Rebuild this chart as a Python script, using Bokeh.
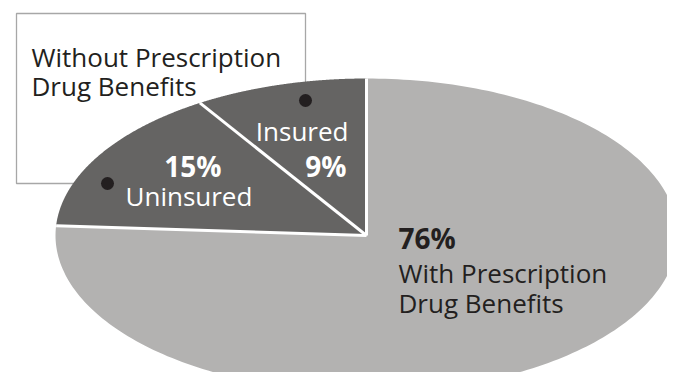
import numpy as np
from bokeh.plotting import figure
from bokeh.models import Range1d
from bokeh.core.properties import value
from bokeh.embed import file_html
from bokeh.resources import INLINE

# data
categories = ["With Prescription Drug Benefits", "Uninsured", "Insured"]
shares = [76, 15, 9]
colors = ["#b3b2b1", "#656463", "#656463"]

W, H = 667, 372
p = figure(width=W, height=H, output_backend="svg", toolbar_location=None,
           x_range=Range1d(0, W), y_range=Range1d(H, 0),
           min_border=0, outline_line_color=None)
p.axis.visible = False
p.grid.visible = False
p.background_fill_color = "white"

cx, cy, rx, ry = 366, 235, 311, 157

# callout box (behind pie)
p.line(x=[305, 305, 16, 16, 107], y=[100, 13, 13, 183, 183], line_color="#a7a7a7", line_width=1.3)

# pie wedges (clockwise from 12 o'clock)
start = 90.0
edges = []
for share, col in zip(shares, colors):
    end = start - share * 3.6
    th = np.radians(np.linspace(start, end, 240))
    xs = np.concatenate([[cx], cx + rx * np.cos(th)])
    ys = np.concatenate([[cy], cy - ry * np.sin(th)])
    p.patch(xs, ys, fill_color=col, line_color=None)
    edges.append(np.radians(start))
    start = end

for a in edges:
    p.line([cx, cx + rx * np.cos(a)], [cy, cy - ry * np.sin(a)], line_color="white", line_width=3)

# connector dots
p.scatter(x=[305, 107], y=[100, 183], size=13, fill_color="#231f20", line_color=None)

font = value("Open Sans")
dark = "#231f20"

def txt(x, y, t, color=dark, bold=False, align="left", size="26px"):
    p.text(x=[x], y=[y], text=[t], text_font=font, text_font_size=size,
           text_color=color, text_align=align, text_baseline="alphabetic",
           text_font_style="bold" if bold else "normal")

txt(31, 56, "Without Prescription")
txt(31, 85, "Drug Benefits")
txt(348, 130, "Insured", color="white", align="right")
txt(346, 165, "9%", color="white", bold=True, align="right", size="28px")
txt(221, 165, "15%", color="white", bold=True, align="right", size="28px")
txt(125, 195, "Uninsured", color="white")
txt(398, 237, "76%", bold=True, size="28px")
txt(398, 272, "With Prescription")
txt(398, 302, "Drug Benefits")

open("out.html", "w").write(file_html(p, INLINE))
